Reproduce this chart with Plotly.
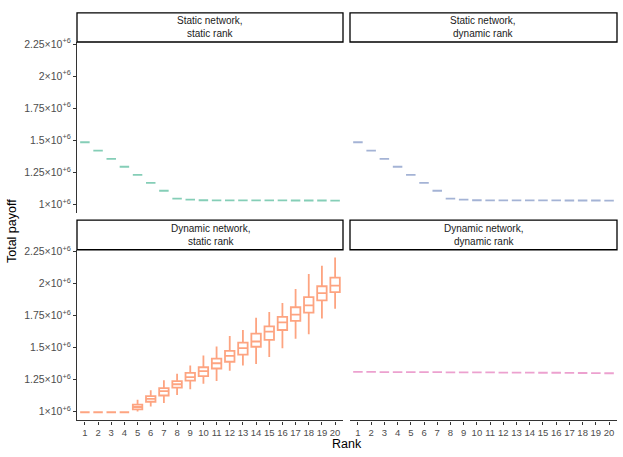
import plotly.graph_objects as go

#? ------------------------------------------------------------------
#?  Data
#? ------------------------------------------------------------------
ranks = list(range(1, 21))

panel_titles = ["Static network,<br>static rank", "Static network,<br>dynamic rank",
                "Dynamic network,<br>static rank", "Dynamic network,<br>dynamic rank"]
panel_colors = ["#66C2A5", "#8DA0CB", "#FC8D62", "#E78AC3"]

# static network panels: collapsed boxes (no spread)
static_static  = [1.484e6, 1.419e6, 1.355e6, 1.293e6, 1.229e6, 1.167e6, 1.106e6, 1.044e6, 1.036e6, 1.032e6,
                  1.031e6, 1.031e6, 1.031e6, 1.031e6, 1.031e6, 1.031e6, 1.030e6, 1.030e6, 1.030e6, 1.029e6]
static_dynamic = [1.484e6, 1.419e6, 1.355e6, 1.293e6, 1.229e6, 1.167e6, 1.106e6, 1.044e6, 1.036e6, 1.032e6,
                  1.031e6, 1.031e6, 1.031e6, 1.031e6, 1.031e6, 1.031e6, 1.030e6, 1.030e6, 1.030e6, 1.029e6]
dynamic_dynamic = [1.310e6, 1.310e6, 1.309e6, 1.309e6, 1.308e6, 1.308e6, 1.308e6, 1.307e6, 1.307e6, 1.306e6,
                   1.306e6, 1.305e6, 1.305e6, 1.305e6, 1.304e6, 1.304e6, 1.303e6, 1.302e6, 1.301e6, 1.300e6]

# dynamic network, static rank: real boxplots
ds_low = [0.995e6, 0.995e6, 0.995e6, 0.995e6, 1.000e6, 1.039e6, 1.067e6, 1.129e6, 1.175e6, 1.218e6,
          1.239e6, 1.320e6, 1.360e6, 1.373e6, 1.427e6, 1.496e6, 1.569e6, 1.604e6, 1.728e6, 1.805e6]
ds_q1  = [0.995e6, 0.995e6, 0.995e6, 0.995e6, 1.018e6, 1.077e6, 1.126e6, 1.188e6, 1.242e6, 1.278e6,
          1.337e6, 1.390e6, 1.445e6, 1.507e6, 1.561e6, 1.638e6, 1.710e6, 1.774e6, 1.870e6, 1.934e6]
ds_med = [0.995e6, 0.995e6, 0.995e6, 0.995e6, 1.036e6, 1.100e6, 1.160e6, 1.214e6, 1.270e6, 1.316e6,
          1.378e6, 1.436e6, 1.496e6, 1.548e6, 1.625e6, 1.697e6, 1.759e6, 1.831e6, 1.926e6, 1.985e6]
ds_q3  = [0.995e6, 0.995e6, 0.995e6, 0.995e6, 1.054e6, 1.121e6, 1.183e6, 1.239e6, 1.303e6, 1.347e6,
          1.414e6, 1.475e6, 1.540e6, 1.610e6, 1.666e6, 1.741e6, 1.816e6, 1.895e6, 1.980e6, 2.047e6]
ds_high = [0.995e6, 0.995e6, 0.995e6, 0.995e6, 1.093e6, 1.167e6, 1.245e6, 1.296e6, 1.360e6, 1.438e6,
           1.509e6, 1.592e6, 1.638e6, 1.733e6, 1.779e6, 1.849e6, 1.959e6, 2.075e6, 2.140e6, 2.204e6]

y_ticks  = [1.0e6, 1.25e6, 1.5e6, 1.75e6, 2.0e6, 2.25e6]
y_labels = ["1", "1.25", "1.5", "1.75", "2", "2.25"]

#? ------------------------------------------------------------------
#?  Layout geometry (pixels of a 623 x 457 canvas)
#? ------------------------------------------------------------------
W, H = 623, 457
px = lambda v: v / W
py = lambda v: 1 - v / H

x_dom = [[px(77), px(343)], [px(350), px(617)]]
y_dom = [[py(210), py(36.5)], [py(420), py(247)]]   # top row, bottom row
strips = [(36.5, 7), (247, 217)]

y_range = [0.9306e6, 2.2654e6]
x_range = [0.4, 20.6]

def rgba(hex_c, a):
    h = hex_c.lstrip("#")
    return f"rgba({int(h[0:2],16)},{int(h[2:4],16)},{int(h[4:6],16)},{a})"

fig = go.Figure()

# panel order: (row, col) -> axis suffix
panels = [
    (0, 0, "3", static_static, None),
    (0, 1, "4", static_dynamic, None),
    (1, 0, "",  None, (ds_low, ds_q1, ds_med, ds_q3, ds_high)),
    (1, 1, "2", dynamic_dynamic, None),
]

for i, (row, col, sfx, flat, stats) in enumerate(panels):
    if stats is None:
        lo = q1 = med = q3 = hi = flat
    else:
        lo, q1, med, q3, hi = stats
    c = panel_colors[i]
    fig.add_trace(go.Box(
        x=ranks, q1=q1, median=med, q3=q3, lowerfence=lo, upperfence=hi,
        xaxis="x" + sfx, yaxis="y" + sfx,
        width=0.72, whiskerwidth=0, boxpoints=False,
        line=dict(color=rgba(c, 0.8), width=1.8),
        fillcolor="white", hoverinfo="skip", showlegend=False,
    ))

    show_x = row == 1
    show_y = col == 0
    fig.layout["xaxis" + sfx] = dict(
        domain=x_dom[col], range=x_range, anchor="y" + sfx,
        tickvals=ranks, ticktext=[str(r) for r in ranks], tickangle=0,
        showticklabels=show_x, ticks="outside" if show_x else "",
        ticklen=3, tickcolor="#333333", tickwidth=1,
        showline=show_x, linecolor="#333333", linewidth=1.3,
        showgrid=False, zeroline=False,
        tickfont=dict(size=9.5, color="#4D4D4D"),
    )
    fig.layout["yaxis" + sfx] = dict(
        domain=y_dom[row], range=y_range, anchor="x" + sfx,
        tickvals=y_ticks, ticktext=[f"{l}×10<sup>+6</sup>" for l in y_labels],
        showticklabels=show_y, ticks="outside" if show_y else "",
        ticklen=3, tickcolor="#333333", tickwidth=1,
        showline=show_y, linecolor="#333333", linewidth=1.3,
        showgrid=False, zeroline=False,
        tickfont=dict(size=10.5, color="#4D4D4D"),
    )

    # facet strip
    y0, y1 = strips[row]
    fig.add_shape(type="rect", xref="paper", yref="paper",
                  x0=x_dom[col][0], x1=x_dom[col][1], y0=py(y0), y1=py(y1),
                  line=dict(color="black", width=1.3), fillcolor="white", layer="above")
    fig.add_annotation(x=(x_dom[col][0] + x_dom[col][1]) / 2, y=py((y0 + y1) / 2),
                       xref="paper", yref="paper", text=panel_titles[i], showarrow=False,
                       xanchor="center", yanchor="middle",
                       font=dict(size=10, color="#1A1A1A"), align="center")

# axis titles
fig.add_annotation(x=px(347), y=py(444), xref="paper", yref="paper", text="Rank",
                   xanchor="center", yanchor="middle",
                   showarrow=False, font=dict(size=12.5, color="black"))
fig.add_annotation(x=px(12), y=py(228), xref="paper", yref="paper", text="Total payoff",
                   xanchor="center", yanchor="middle",
                   textangle=-90, showarrow=False, font=dict(size=12.5, color="black"))

fig.update_layout(
    width=W, height=H, margin=dict(l=0, r=0, t=0, b=0),
    paper_bgcolor="white", plot_bgcolor="white",
    font=dict(family="Liberation Sans, Arial, sans-serif"),
    boxmode="overlay",
)

# page body has a default margin; drop it so the figure sits at (0, 0)
fig.write_html("out.html", config={"displayModeBar": False},
               post_script="document.body.style.margin='0';")
